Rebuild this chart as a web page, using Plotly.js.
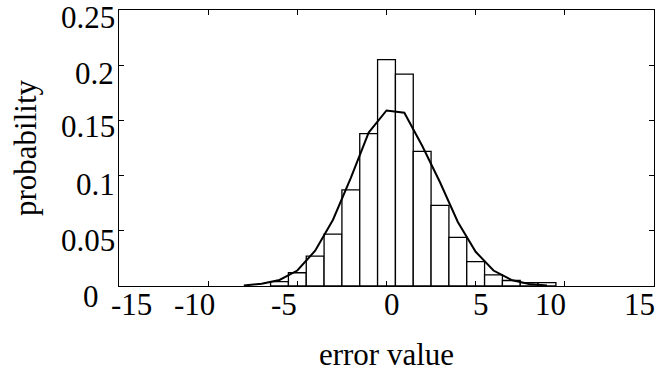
<!DOCTYPE html>
<html>
<head>
<meta charset="utf-8">
<script src="https://cdn.plot.ly/plotly-3.0.1.min.js"></script>
<style>
  html, body { margin: 0; padding: 0; background: #fff; }
  #chart { width: 656px; height: 375px; }
</style>
</head>
<body>
<div id="chart"></div>
<script>
// Histogram of error values (bin width 1, centred on integers)
const binCenters = [-6, -5, -4, -3, -2, -1, 0, 1, 2, 3, 4, 5, 6, 7, 8, 9];
const binProb = [0.004, 0.012, 0.027, 0.047, 0.087, 0.138, 0.205, 0.192, 0.122,
                 0.073, 0.044, 0.022, 0.010, 0.005, 0.003, 0.003];

// Fitted density curve, sampled at integer error values
const fitX = [-8, -7, -6, -5, -4, -3, -2, -1, 0, 1, 2, 3, 4, 5, 6, 7, 8, 9];
const fitY = [0.0005, 0.002, 0.0055, 0.014, 0.032, 0.060, 0.098, 0.139, 0.159, 0.157,
              0.127, 0.094, 0.058, 0.031, 0.014, 0.0055, 0.0018, 0.0005];

const xTicks = [-15, -10, -5, 0, 5, 10, 15];
const xTickText = ['-15', '-10', '-5', '0', '5', '10', '15'];
const yTicks = [0, 0.05, 0.1, 0.15, 0.2, 0.25];
const yTickText = ['0', '0.05', '0.1', '0.15', '0.2', '0.25'];

const serif = 'Liberation Serif, Times New Roman, serif';
const textFont = { family: serif, size: 31, color: '#000000' };

// pixel nudges of the hand-placed tick labels relative to their ticks
const xLabelNudge = [12, -14, -13, 5, 5, -14, -15];
const yLabelNudgeX = [-18, -2, -2, -2, -3, -2];
const yLabelNudgeY = [-10, -10, -9, -6, -8, -7];

const traces = [
  {
    type: 'bar',
    x: binCenters,
    y: binProb,
    width: 1,
    marker: { color: '#ffffff', line: { color: '#000000', width: 1.3 } },
    hoverinfo: 'x+y'
  },
  {
    type: 'scatter',
    mode: 'lines',
    x: fitX,
    y: fitY,
    line: { color: '#000000', width: 2 },
    hoverinfo: 'x+y'
  }
];

const axisCommon = {
  automargin: false,
  showgrid: false,
  zeroline: false,
  showline: true,
  linecolor: '#000000',
  linewidth: 1.3,
  mirror: 'ticks',
  ticks: 'inside',
  ticklen: 5,
  tickwidth: 1,
  tickcolor: '#000000',
  showticklabels: false
};

const xLabelAnnotations = xTicks.map((v, i) => ({
  xref: 'x', yref: 'paper',
  x: v, y: 0,
  xanchor: 'center', yanchor: 'middle',
  xshift: xLabelNudge[i], yshift: -18,
  text: xTickText[i],
  showarrow: false,
  font: textFont
}));

const yLabelAnnotations = yTicks.map((v, i) => ({
  xref: 'paper', yref: 'y',
  x: 0, y: v,
  xanchor: 'right', yanchor: 'middle',
  xshift: yLabelNudgeX[i], yshift: yLabelNudgeY[i],
  text: yTickText[i],
  showarrow: false,
  font: textFont
}));

const layout = {
  width: 656,
  height: 375,
  margin: { l: 119, r: 2, t: 10, b: 89 },
  paper_bgcolor: '#ffffff',
  plot_bgcolor: '#ffffff',
  showlegend: false,
  bargap: 0,
  xaxis: Object.assign({}, axisCommon, {
    range: [-15, 15],
    tickmode: 'array',
    tickvals: xTicks,
    title: { text: 'error value', font: textFont, standoff: 57 }
  }),
  yaxis: Object.assign({}, axisCommon, {
    range: [0, 0.25],
    tickmode: 'array',
    tickvals: yTicks,
    title: { text: 'probability', font: textFont, standoff: 72 }
  }),
  annotations: xLabelAnnotations.concat(yLabelAnnotations)
};

Plotly.newPlot('chart', traces, layout, { displayModeBar: false, staticPlot: true });
</script>
</body>
</html>
